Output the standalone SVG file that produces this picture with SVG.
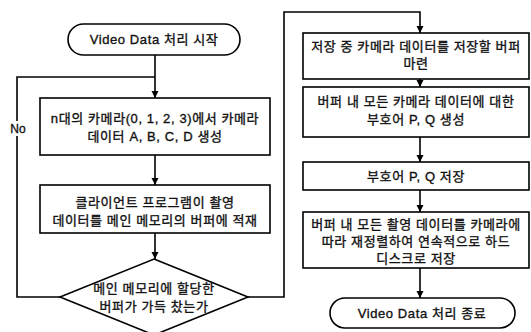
<svg xmlns="http://www.w3.org/2000/svg" width="531" height="332" viewBox="0 0 531 332">
  <defs>
    <marker id="arrow" viewBox="0 0 10 10" refX="10" refY="5" markerWidth="7" markerHeight="8" markerUnits="userSpaceOnUse" orient="auto">
      <path d="M0,0 L10,5 L0,10 Z" fill="#000"/>
    </marker>
    <style>
      .shape { fill: #fff; stroke: #000; stroke-width: 1.6; }
      .edge { fill: none; stroke: #000; stroke-width: 1.6; }
      .lbl { font-family: "Liberation Sans", "Noto Sans CJK KR", sans-serif; font-size: 13px; letter-spacing: 0.6px; fill: #111; stroke: #111; stroke-width: 0.35; text-anchor: middle; }
    </style>
  </defs>
  <rect width="531" height="332" fill="#fff"/>

  <!-- connectors -->
  <g id="connectors">
    <line class="edge" x1="155" y1="55" x2="155" y2="98" marker-end="url(#arrow)"/>
    <polyline class="edge" points="60,297 17,297 17,77 155,77"/>
    <line class="edge" x1="155" y1="155" x2="155" y2="185" marker-end="url(#arrow)"/>
    <line class="edge" x1="155" y1="233" x2="155" y2="259" marker-end="url(#arrow)"/>
    <polyline class="edge" points="248,297 284,297 284,12 420,12 420,33" marker-end="url(#arrow)"/>
    <line class="edge" x1="420" y1="79" x2="420" y2="87" marker-end="url(#arrow)"/>
    <line class="edge" x1="420" y1="137" x2="420" y2="162" marker-end="url(#arrow)"/>
    <line class="edge" x1="420" y1="190" x2="420" y2="212" marker-end="url(#arrow)"/>
    <line class="edge" x1="420" y1="268" x2="420" y2="298" marker-end="url(#arrow)"/>
    <rect x="9" y="121" width="17" height="15" fill="#fff"/>
    <text class="lbl" x="18" y="133" style="font-size:12px;letter-spacing:0">No</text>
  </g>

  <!-- left column -->
  <g id="start">
    <rect class="shape" x="68" y="24" width="172" height="31" rx="15.5"/>
    <text class="lbl" x="154" y="44">Video Data 처리 시작</text>
  </g>
  <g id="generate">
    <rect class="shape" x="40" y="98" width="230" height="57"/>
    <text class="lbl" x="155" y="123">n대의 카메라(0, 1, 2, 3)에서 카메라</text>
    <text class="lbl" x="155" y="141">데이터 A, B, C, D 생성</text>
  </g>
  <g id="load">
    <rect class="shape" x="40" y="185" width="230" height="48"/>
    <text class="lbl" x="155" y="207">클라이언트 프로그램이 촬영</text>
    <text class="lbl" x="155" y="225">데이터를 메인 메모리의 버퍼에 적재</text>
  </g>
  <g id="full-check">
    <polygon class="shape" points="154,259 248,297 154,335 60,297"/>
    <text class="lbl" x="154" y="293">메인 메모리에 할당한</text>
    <text class="lbl" x="154" y="311">버퍼가 가득 찼는가</text>
  </g>

  <!-- right column -->
  <g id="prepare">
    <rect class="shape" x="303" y="33" width="226" height="46"/>
    <text class="lbl" x="416" y="51">저장 중 카메라 데이터를 저장할 버퍼</text>
    <text class="lbl" x="416" y="68">마련</text>
  </g>
  <g id="codeword">
    <rect class="shape" x="303" y="87" width="226" height="50"/>
    <text class="lbl" x="416" y="106">버퍼 내 모든 카메라 데이터에 대한</text>
    <text class="lbl" x="416" y="124">부호어 P, Q 생성</text>
  </g>
  <g id="store-pq">
    <rect class="shape" x="303" y="162" width="226" height="28"/>
    <text class="lbl" x="416" y="181">부호어 P, Q 저장</text>
  </g>
  <g id="reorder">
    <rect class="shape" x="303" y="212" width="226" height="56"/>
    <text class="lbl" x="416" y="229">버퍼 내 모든 촬영 데이터를 카메라에</text>
    <text class="lbl" x="416" y="246">따라 재정렬하여 연속적으로 하드</text>
    <text class="lbl" x="416" y="263">디스크로 저장</text>
  </g>
  <g id="end">
    <rect class="shape" x="330" y="298" width="185" height="30" rx="15"/>
    <text class="lbl" x="422" y="318">Video Data 처리 종료</text>
  </g>
</svg>
